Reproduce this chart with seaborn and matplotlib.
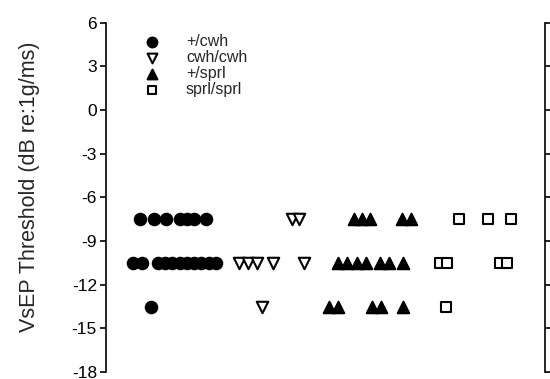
import matplotlib
matplotlib.use("Agg")
import matplotlib.pyplot as plt
import seaborn as sns
import pandas as pd

# Data (x = horizontal position within the plot, arbitrary units 0-44)
groups = ["+/cwh", "cwh/cwh", "+/sprl", "sprl/sprl"]

cwh_het_x = [3.4, 4.8, 6.0, 7.4, 8.1, 8.8, 10.0,
             2.7, 3.6, 5.2, 5.9, 6.6, 7.4, 8.1, 8.8, 9.5, 10.3, 11.0,
             4.5]
cwh_het_y = [-7.5] * 7 + [-10.5] * 11 + [-13.5]

cwh_hom_x = [18.6, 19.3,
             13.3, 14.2, 15.1, 16.7, 19.8,
             15.6]
cwh_hom_y = [-7.5] * 2 + [-10.5] * 5 + [-13.5]

sprl_het_x = [24.9, 25.7, 26.5, 29.7, 30.6,
              23.3, 24.2, 25.2, 26.1, 27.5, 28.4, 29.8,
              22.4, 23.3, 26.7, 27.6, 29.8]
sprl_het_y = [-7.5] * 5 + [-10.5] * 7 + [-13.5] * 5

sprl_hom_x = [35.4, 38.3, 40.6,
              33.5, 34.2, 39.5, 40.2,
              34.1]
sprl_hom_y = [-7.5] * 3 + [-10.5] * 4 + [-13.5]

yticks = [6, 3, 0, -3, -6, -9, -12, -15, -18]

frames = []
for g, xs, ys in [(groups[0], cwh_het_x, cwh_het_y),
                  (groups[1], cwh_hom_x, cwh_hom_y),
                  (groups[2], sprl_het_x, sprl_het_y),
                  (groups[3], sprl_hom_x, sprl_hom_y)]:
    frames.append(pd.DataFrame({"genotype": g, "x": xs, "threshold": ys}))
df = pd.concat(frames, ignore_index=True)

sns.set_style("ticks")
plt.rcParams["font.family"] = ["Liberation Sans", "DejaVu Sans"]

fig = plt.figure(figsize=(5.5, 3.79), dpi=100)
ax = fig.add_axes([0.1927, 0.0185, 0.7982, 0.9215])

styles = {
    "+/cwh": dict(marker="o", facecolor="black", edgecolor="black", s=68),
    "cwh/cwh": dict(marker="v", facecolor="white", edgecolor="black", s=68),
    "+/sprl": dict(marker="^", facecolor="black", edgecolor="black", s=68),
    "sprl/sprl": dict(marker="s", facecolor="white", edgecolor="black", s=50),
}

for g in groups:
    st = styles[g]
    sub = df[df["genotype"] == g]
    sns.scatterplot(data=sub, x="x", y="threshold", ax=ax,
                    marker=st["marker"], s=st["s"],
                    facecolor=st["facecolor"], edgecolor=st["edgecolor"],
                    linewidth=1.5, label=g, zorder=3)

ax.set_xlim(0, 44)
ax.set_ylim(-18, 6)
ax.set_yticks(yticks)
ax.set_yticklabels([str(t) for t in yticks], fontsize=12.5)
ax.set_xticks([])
ax.set_xlabel("")
ax.set_ylabel("VsEP Threshold (dB re:1g/ms)", fontsize=15.5)
ax.yaxis.set_label_coords(-0.15, 0.53)

ax.spines["top"].set_visible(False)
ax.spines["bottom"].set_visible(False)
ax.spines["right"].set_visible(True)
for side in ["left", "right"]:
    ax.spines[side].set_linewidth(1.2)
    ax.spines[side].set_color("black")
ax.tick_params(axis="y", which="both", direction="out", length=4.5, width=1.2,
               pad=2, left=True, right=True, labelright=False, colors="black")

leg = ax.legend(loc="upper left", bbox_to_anchor=(0.055, 0.985), frameon=False,
                fontsize=11.5, handletextpad=1.1, labelspacing=0.06,
                borderaxespad=0.0, markerscale=0.85)

fig.savefig("out.png", dpi=100)
